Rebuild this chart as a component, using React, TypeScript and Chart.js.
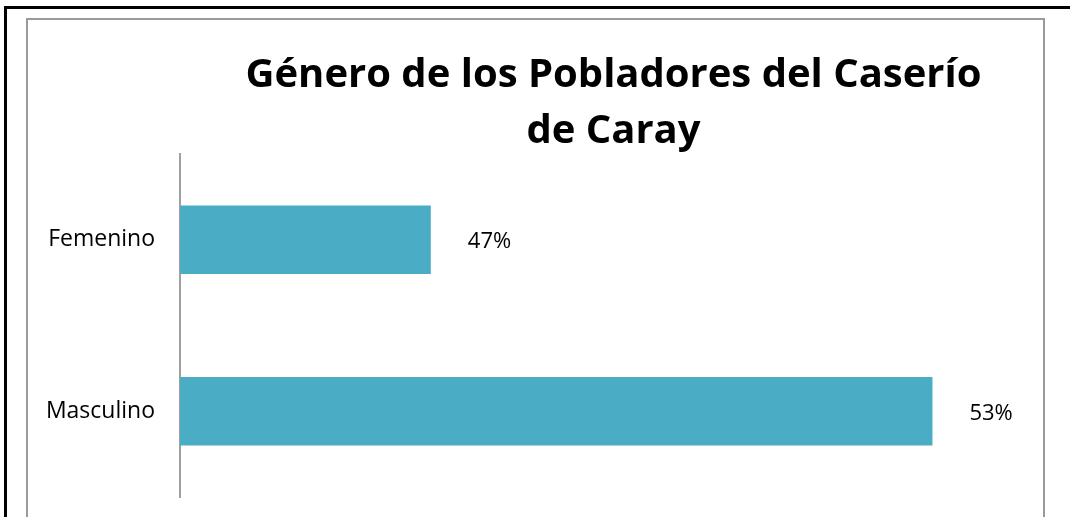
import React, { useEffect, useRef } from "react";
import { Chart, registerables } from "chart.js";

Chart.register(...registerables);

const categories: string[] = ["Femenino", "Masculino"];
const percentValues: number[] = [47, 53];
const titleLines: string[] = ["Género de los Pobladores del Caserío", "de Caray"];

const FONT = "'Open Sans', Lato, sans-serif";

const framePlugin = {
  id: "frame",
  beforeDraw(chart: any) {
    const ctx = chart.ctx;
    ctx.save();
    ctx.fillStyle = "#ffffff";
    ctx.fillRect(0, 0, chart.width, chart.height);
    // outer black frame
    ctx.fillStyle = "#000000";
    ctx.fillRect(4, 6, 3, chart.height - 6);
    ctx.fillRect(4, 6, chart.width - 4, 3);
    // inner gray frame
    ctx.fillStyle = "#9a9a9a";
    ctx.fillRect(26, 18, 2, chart.height - 18);
    ctx.fillRect(26, 18, 1045 - 26, 2);
    ctx.fillRect(1043, 18, 2, chart.height - 18);
    ctx.restore();
  },
};

const labelPlugin = {
  id: "valueLabels",
  afterDatasetsDraw(chart: any) {
    const ctx = chart.ctx;
    const meta = chart.getDatasetMeta(0);
    ctx.save();
    ctx.fillStyle = "#000000";
    ctx.font = `22px ${FONT}`;
    ctx.textAlign = "left";
    ctx.textBaseline = "middle";
    meta.data.forEach((bar: any, i: number) => {
      ctx.fillText(`${percentValues[i]}%`, bar.x + 37, bar.y + 2);
    });
    ctx.restore();
  },
};

export default function App() {
  const canvasRef = useRef<HTMLCanvasElement | null>(null);

  useEffect(() => {
    document.body.style.margin = "0";
    const canvas = canvasRef.current;
    if (!canvas) return;
    const chart = new Chart(canvas, {
      type: "bar",
      data: {
        labels: categories,
        datasets: [
          {
            data: percentValues,
            backgroundColor: "#4BACC6",
            borderWidth: 0,
            barPercentage: 0.4,
            categoryPercentage: 1,
          },
        ],
      },
      options: {
        indexAxis: "y",
        animation: false,
        responsive: false,
        maintainAspectRatio: false,
        layout: { padding: { left: 30, right: 23, top: 18, bottom: 20 } },
        plugins: {
          legend: { display: false },
          tooltip: { enabled: false },
          title: {
            display: true,
            text: titleLines,
            fullSize: false,
            color: "#000000",
            font: { family: FONT, size: 40, weight: "bold", lineHeight: 1.4 },
            padding: { top: 30, bottom: -6 },
          },
        },
        scales: {
          x: {
            display: false,
            min: 44,
            max: 54.37,
          },
          y: {
            grid: { display: false, drawTicks: false },
            border: { display: true, color: "#a0a0a0", width: 2 },
            ticks: {
              color: "#000000",
              padding: 25,
              font: { family: FONT, size: 23 },
            },
            afterFit(scale: any) {
              scale.width = 150;
              scale.paddingTop = 0;
              scale.paddingBottom = 0;
            },
          },
        },
      },
      plugins: [framePlugin, labelPlugin],
    });
    return () => chart.destroy();
  }, []);

  return (
    <div style={{ position: "absolute", left: 0, top: 0, width: 1070, height: 517 }}>
      <canvas ref={canvasRef} width={1070} height={517} style={{ display: "block" }} />
    </div>
  );
}
